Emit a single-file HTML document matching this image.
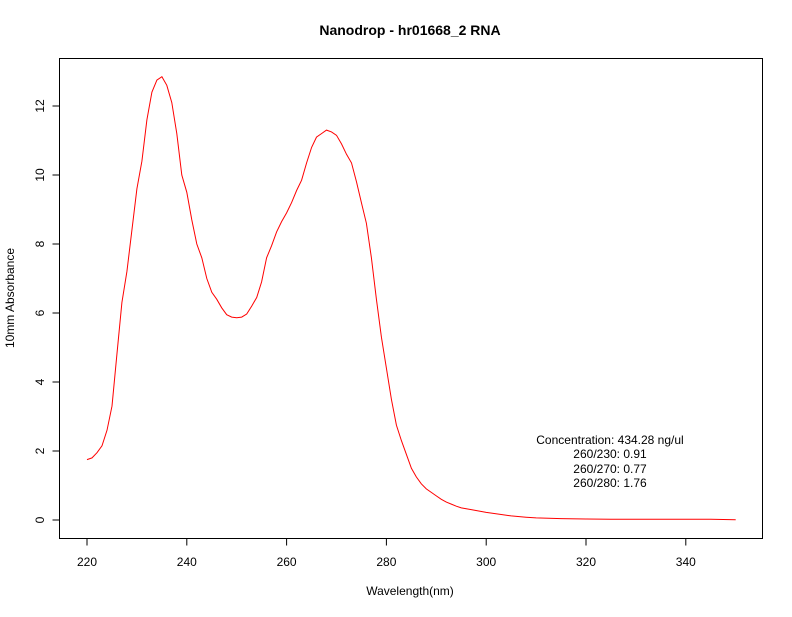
<!DOCTYPE html>
<html><head><meta charset="utf-8"><style>
body{margin:0;background:#fff}
text{font-family:"Liberation Sans",sans-serif;font-size:12px;fill:#000}
</style></head><body>
<svg id="chart" width="792" height="612" xmlns="http://www.w3.org/2000/svg">
<rect width="792" height="612" fill="#fff"/>
<text x="410" y="35" text-anchor="middle" style="font-weight:bold;font-size:14px">Nanodrop - hr01668_2 RNA</text>
<rect x="59.5" y="58.5" width="703" height="480" fill="none" stroke="#000"/>
<g id="xaxis"></g>
<g id="yaxis"></g>
<text x="410" y="595" text-anchor="middle">Wavelength(nm)</text>
<text transform="translate(14,298) rotate(-90)" text-anchor="middle">10mm Absorbance</text>
<path id="line" fill="none" stroke="#ff0000" stroke-width="1"/>
<g text-anchor="middle">
<text x="610" y="444">Concentration: 434.28 ng/ul</text>
<text x="610" y="458">260/230: 0.91</text>
<text x="610" y="473">260/270: 0.77</text>
<text x="610" y="487">260/280: 1.76</text>
</g>
</svg>
<script>
const wavelengths=[220,221,222,223,224,225,226,227,228,229,230,231,232,233,234,235,236,237,238,239,240,241,242,243,244,245,246,247,248,249,250,251,252,253,254,255,256,257,258,259,260,261,262,263,264,265,266,267,268,269,270,271,272,273,274,275,276,277,278,279,280,281,282,283,284,285,286,287,288,289,290,291,292,293,294,295,297,300,303,305,308,310,315,320,325,330,335,340,345,350];
const absorbance=[1.75,1.8,1.95,2.15,2.6,3.3,4.8,6.3,7.2,8.4,9.6,10.4,11.6,12.4,12.75,12.85,12.6,12.1,11.2,10.0,9.5,8.7,8.0,7.6,7.0,6.6,6.4,6.15,5.95,5.88,5.86,5.88,5.97,6.2,6.45,6.9,7.6,7.95,8.35,8.65,8.9,9.2,9.55,9.85,10.35,10.8,11.1,11.2,11.3,11.25,11.15,10.9,10.6,10.35,9.8,9.2,8.6,7.6,6.4,5.3,4.4,3.5,2.75,2.3,1.9,1.5,1.25,1.05,0.9,0.8,0.7,0.6,0.52,0.46,0.4,0.35,0.3,0.22,0.16,0.12,0.08,0.06,0.04,0.03,0.02,0.02,0.02,0.02,0.02,0.01];
const xTicks=[220,240,260,280,300,320,340];
const yTicks=[0,2,4,6,8,10,12];
const X=w=>87+(w-220)*4.99;
const Y=v=>520-v*34.5;
const NS='http://www.w3.org/2000/svg';
const xa=document.getElementById('xaxis'), ya=document.getElementById('yaxis');
function mk(tag,attrs,parent){const e=document.createElementNS(NS,tag);for(const k in attrs)e.setAttribute(k,attrs[k]);parent.appendChild(e);return e;}
const xl=mk('line',{x1:X(220),x2:X(340),y1:538.5,y2:538.5,stroke:'#000'},xa);
xTicks.forEach(t=>{
 const tk=mk('line',{x1:X(t),x2:X(t),y1:538.5,y2:545.5,stroke:'#000'},xa);
 
 
 const lb=mk('text',{x:X(t),y:566,'text-anchor':'middle'},xa);
 lb.textContent=t;
 
 
});
mk('line',{x1:59.5,x2:59.5,y1:Y(0),y2:Y(12),stroke:'#000'},ya);
yTicks.forEach(t=>{
 const tk=mk('line',{x1:52.5,x2:59.5,y1:Y(t),y2:Y(t),stroke:'#000'},ya);
 
 
 const lb=mk('text',{transform:`translate(44,${Y(t)}) rotate(-90)`,'text-anchor':'middle'},ya);
 lb.textContent=t;
 
 
});
document.getElementById('line').setAttribute('d',wavelengths.map((w,i)=>(i?'L':'M')+X(w).toFixed(1)+','+Y(absorbance[i]).toFixed(1)).join(''));
</script>
</body></html>
